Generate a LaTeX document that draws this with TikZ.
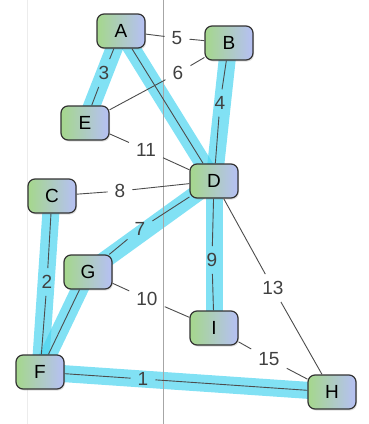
\documentclass[tikz,border=0pt]{standalone}
\usepackage{fontspec}
\setmainfont{Liberation Sans}
\usetikzlibrary{backgrounds,shadows}
\definecolor{leafgreen}{RGB}{165,215,140}
\definecolor{lavender}{RGB}{182,192,245}
\definecolor{hilite}{RGB}{75,212,240}

\begin{document}
\begin{tikzpicture}[x=1pt,y=-1pt,
    vtx/.style={draw=black!80,line width=1.2pt,rounded corners=7pt,
      left color=leafgreen,right color=lavender,
      minimum width=48pt,minimum height=34pt,inner sep=0pt,
      font=\fontsize{19}{20}\selectfont,
      drop shadow={opacity=0.25,shadow xshift=1pt,shadow yshift=-1.5pt}},
    wt/.style={inner sep=7pt,font=\fontsize{19}{20}\selectfont,text=black!75},
    edge/.style={draw=black!70,line width=0.9pt},
    mst/.style={draw=hilite,line width=17pt,opacity=0.7,line cap=round}]
        \useasboundingbox (0,0) rectangle (369,424);
        \draw[gray!15,line width=0.8pt] (27,0) -- (27,424);
        \draw[gray!70,line width=1pt] (163,0) -- (163,424);

        % vertices
        \node[vtx] (A) at (121,31) {A};
        \node[vtx] (B) at (229,43) {B};
        \node[vtx] (E) at (85,123) {E};
        \node[vtx] (D) at (214,181) {D};
        \node[vtx] (C) at (52,196) {C};
        \node[vtx] (G) at (88,272) {G};
        \node[vtx] (I) at (214,328) {I};
        \node[vtx] (F) at (40,372) {F};
        \node[vtx] (H) at (332,392) {H};

        % weights
        \node[wt] (w5) at (177,38) {5};
        \node[wt] (w6) at (178,73) {6};
        \node[wt] (w3) at (104,73) {3};
        \node[wt] (w4) at (220,103) {4};
        \node[wt] (w11) at (146,150) {11};
        \node[wt] (w8) at (120,191) {8};
        \node[wt] (w7) at (140,229) {7};
        \node[wt] (w2) at (47,282) {2};
        \node[wt] (w9) at (212,260) {9};
        \node[wt] (w10) at (147,299) {10};
        \node[wt] (w13) at (273,288) {13};
        \node[wt] (w15) at (269,359) {15};
        \node[wt] (w1) at (143,379) {1};

        % spanning tree
        \begin{pgfonlayer}{background}
            \foreach \u/\v in {A/E,A/D,B/D,D/G,D/I,C/F,G/F,F/H}
                \draw[mst] (\u.center) -- (\v.center);
        \end{pgfonlayer}

        \draw[edge] (A) -- (w5) -- (B);
        \draw[edge] (E) -- (w6) -- (B);
        \draw[edge] (A) -- (w3) -- (E);
        \draw[edge] (A) -- (D);
        \draw[edge] (B) -- (w4) -- (D);
        \draw[edge] (E) -- (w11) -- (D);
        \draw[edge] (C) -- (w8) -- (D);
        \draw[edge] (D) -- (w7) -- (G);
        \draw[edge] (C) -- (w2) -- (F);
        \draw[edge] (D) -- (w9) -- (I);
        \draw[edge] (G) -- (w10) -- (I);
        \draw[edge] (G) -- (F);
        \draw[edge] (D) -- (w13) -- (H);
        \draw[edge] (I) -- (w15) -- (H);
        \draw[edge] (F) -- (w1) -- (H);
\end{tikzpicture}
\end{document}
